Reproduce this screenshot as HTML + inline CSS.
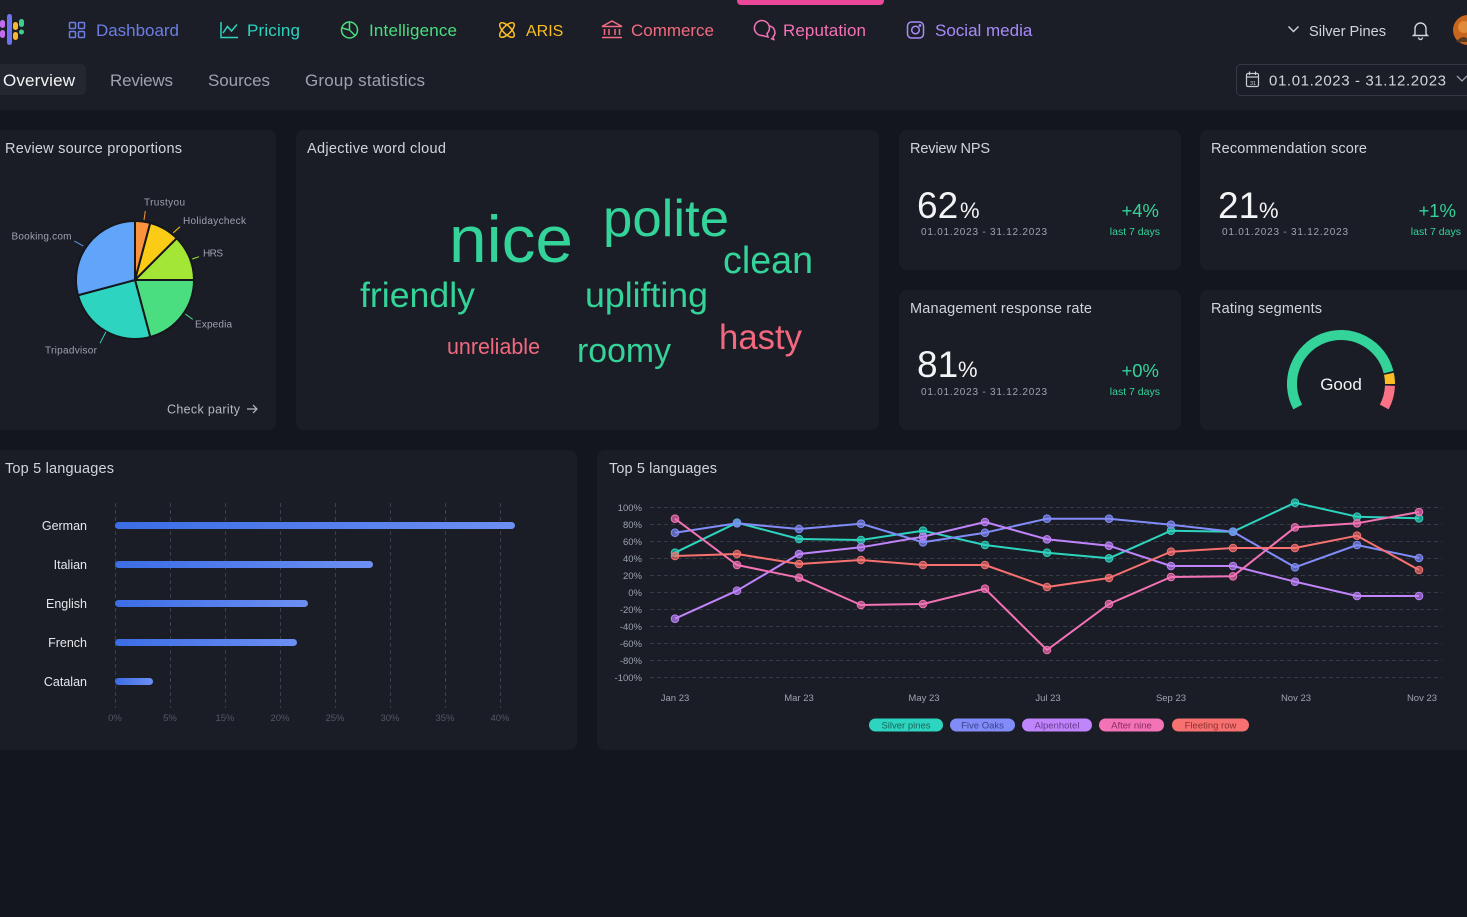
<!DOCTYPE html>
<html><head><meta charset="utf-8"><style>
html,body{margin:0;padding:0;background:#13161c;width:1467px;height:917px;overflow:hidden}
svg{display:block;font-family:"Liberation Sans",sans-serif}
</style></head><body>
<svg width="1467" height="917" viewBox="0 0 1467 917" xmlns="http://www.w3.org/2000/svg">
<defs>
<linearGradient id="bg" x1="0" x2="1" y1="0" y2="0"><stop offset="0" stop-color="#3b6de6"/><stop offset="1" stop-color="#6d8ff2"/></linearGradient>
</defs>
<rect width="1467" height="917" fill="#13161c"/>
<!-- header -->
<rect x="0" y="0" width="1467" height="110" fill="#1b1e26"/>
<!-- logo -->
<rect x="0" y="20" width="5" height="8" rx="2.5" fill="#c26cf0"/><rect x="0" y="30" width="5" height="8" rx="2.5" fill="#c26cf0"/>
<rect x="7" y="14" width="5" height="31" rx="2.5" fill="#6b74ee"/>
<rect x="13" y="22" width="5" height="8" rx="2.5" fill="#f5b82e"/><rect x="13" y="32" width="5" height="8" rx="2.5" fill="#f5b82e"/>
<rect x="19" y="19" width="5" height="8" rx="2.5" fill="#3ecf8e"/><circle cx="21.5" cy="32" r="2.5" fill="#3ecf8e"/>
<!-- active indicator -->
<rect x="737" y="-4" width="147" height="9" rx="4" fill="#ec4899"/>
<!-- nav icons -->
<g fill="none" stroke-width="1.5">
<g stroke="#6c7ee6"><rect x="69.5" y="22.5" width="6" height="6" rx="1"/><rect x="78.5" y="22.5" width="6" height="6" rx="1"/><rect x="69.5" y="31.5" width="6" height="6" rx="1"/><rect x="78.5" y="31.5" width="6" height="6" rx="1"/></g>
<g stroke="#2dd4bf"><polyline points="221,22 221,37.5 238,37.5"/><polyline points="223,33 227.5,26.5 231.5,31 237,24.5"/></g>
<g stroke="#4ade80"><circle cx="349.5" cy="30" r="8"/><path d="M349.5 22 V30 L355 35.5 M349.5 30 L342 28"/></g>
<g stroke="#fbbf24"><ellipse cx="507" cy="30" rx="9.5" ry="4" transform="rotate(45 507 30)"/><ellipse cx="507" cy="30" rx="9.5" ry="4" transform="rotate(-45 507 30)"/></g>
<g stroke="#f26b80"><path d="M602 26.5 L612 21 L622 26.5 Z M604.5 29 V35 M609 29 V35 M615 29 V35 M619.5 29 V35 M602 37.5 H622"/></g>
<g stroke="#f472b6"><path d="M762 35.5 a7.5 7.5 0 1 1 5 -2 l1 3.5 z"/><path d="M769.5 26 a6.5 6.5 0 0 1 3.5 11 l0.8 2.5 -3 -1"/></g>
<g stroke="#a78bfa"><rect x="907.5" y="22" width="16" height="16" rx="4"/><circle cx="915.5" cy="30" r="3.8"/><circle cx="920" cy="25.5" r="0.6" fill="#a78bfa"/></g>
</g>
<g font-size="17">
<text x="96" y="36" fill="#6c7ee6" textLength="83">Dashboard</text>
<text x="247" y="36" fill="#2dd4bf" textLength="53">Pricing</text>
<text x="369" y="36" fill="#4ade80" textLength="88">Intelligence</text>
<text x="526" y="36" fill="#fbbf24" font-size="16">ARIS</text>
<text x="631" y="36" fill="#f26b80" textLength="83">Commerce</text>
<text x="783" y="36" fill="#f472b6" textLength="83">Reputation</text>
<text x="935" y="36" fill="#a78bfa">Social media</text>
</g>
<!-- right header -->
<polyline points="1288.5,26.5 1293.5,31.5 1298.5,26.5" fill="none" stroke="#d1d5db" stroke-width="1.4"/>
<text x="1309" y="36" font-size="14.6" fill="#d1d5db">Silver Pines</text>
<path d="M1415 34 V28.5 a5.5 5.5 0 0 1 11 0 V34 l1.5 1.5 H1413.5 Z M1418.5 37.5 a2 2 0 0 0 4 0" fill="none" stroke="#d1d5db" stroke-width="1.4"/>
<circle cx="1468" cy="30" r="15" fill="#c8661e"/><circle cx="1464" cy="27" r="6" fill="#e08a3a"/><path d="M1456 42 q8 -10 14 0" fill="#5a3a22"/>
<!-- tabs -->
<rect x="-6" y="64" width="92" height="31" rx="5" fill="#24272f"/>
<g font-size="17" fill="#9ca3af">
<text x="3" y="86" fill="#f3f4f6" textLength="72">Overview</text>
<text x="110" y="86" textLength="63">Reviews</text>
<text x="208" y="86" textLength="62">Sources</text>
<text x="305" y="86" textLength="120">Group statistics</text>
</g>
<!-- date picker -->
<rect x="1236.5" y="64.5" width="250" height="31" rx="4" fill="none" stroke="#343842"/>
<g fill="none" stroke="#c9ccd2" stroke-width="1.2"><rect x="1246.5" y="73.5" width="12" height="13" rx="1.5"/><path d="M1246.5 77 H1258.5 M1249.5 71.5 V75 M1255.5 71.5 V75"/></g>
<text x="1250" y="85" font-size="5.5" fill="#c9ccd2">31</text>
<text x="1269" y="85.5" font-size="15" fill="#d1d5db" textLength="177">01.01.2023 - 31.12.2023</text>
<polyline points="1457,76 1462,81 1467,76" fill="none" stroke="#9ca3af" stroke-width="1.3"/>

<!-- cards -->
<g fill="#1a1d25">
<rect x="-10" y="130" width="286" height="300" rx="8"/>
<rect x="296" y="130" width="583" height="300" rx="8"/>
<rect x="899" y="130" width="282" height="140" rx="8"/>
<rect x="1200" y="130" width="290" height="140" rx="8"/>
<rect x="899" y="290" width="282" height="140" rx="8"/>
<rect x="1200" y="290" width="290" height="140" rx="8"/>
<rect x="-10" y="450" width="587" height="300" rx="8"/>
<rect x="597" y="450" width="890" height="300" rx="8"/>
</g>
<g font-size="14.5" fill="#d1d5db">
<text x="5" y="153" textLength="177">Review source proportions</text>
<text x="307" y="153" textLength="139">Adjective word cloud</text>
<text x="910" y="153" textLength="80">Review NPS</text>
<text x="1211" y="153" textLength="156">Recommendation score</text>
<text x="910" y="313" textLength="182">Management response rate</text>
<text x="1211" y="313" textLength="111">Rating segments</text>
<text x="5" y="473" textLength="109">Top 5 languages</text>
<text x="609" y="473" textLength="108">Top 5 languages</text>
</g>

<!-- pie -->
<g stroke="#15171d" stroke-width="2" stroke-linejoin="round">
<path d="M135 280 L135 221 A59 59 0 0 1 150.27 223.01 Z" fill="#fb923c"/>
<path d="M135 280 L150.27 223.01 A59 59 0 0 1 176.72 238.28 Z" fill="#facc15"/>
<path d="M135 280 L176.72 238.28 A59 59 0 0 1 194 280 Z" fill="#a3e635"/>
<path d="M135 280 L194 280 A59 59 0 0 1 150.27 336.99 Z" fill="#4ade80"/>
<path d="M135 280 L150.27 336.99 A59 59 0 0 1 78.01 295.27 Z" fill="#2dd4bf"/>
<path d="M135 280 L78.01 295.27 A59 59 0 0 1 135 221 Z" fill="#60a5fa"/>
</g>
<g stroke-width="1">
<line x1="144" y1="220" x2="145.3" y2="211" stroke="#fb923c"/>
<line x1="173.3" y1="232.7" x2="180" y2="226.7" stroke="#facc15"/>
<line x1="192.3" y1="259" x2="199" y2="256.7" stroke="#a3e635"/>
<line x1="74.3" y1="241" x2="83.3" y2="246" stroke="#60a5fa"/>
<line x1="185.3" y1="314" x2="192.7" y2="319.3" stroke="#4ade80"/>
<line x1="106" y1="331.7" x2="100" y2="343.3" stroke="#2dd4bf"/>
</g>
<g font-size="10" fill="#9ca3af">
<text x="144" y="205.5" textLength="41">Trustyou</text>
<text x="183" y="224" textLength="63">Holidaycheck</text>
<text x="203" y="256.5" textLength="20">HRS</text>
<text x="11.5" y="239.5" textLength="60">Booking.com</text>
<text x="195" y="327.5" textLength="37">Expedia</text>
<text x="45" y="353.5" textLength="52">Tripadvisor</text>
</g>
<text x="167" y="413.5" font-size="12.5" fill="#b4b9c2" textLength="73">Check parity</text>
<path d="M247 409 H257 M253 405 L257 409 L253 413" fill="none" stroke="#b4b9c2" stroke-width="1.2"/>

<!-- word cloud -->
<g fill="#34d399">
<text x="449" y="262" font-size="66" textLength="124" lengthAdjust="spacingAndGlyphs">nice</text>
<text x="603" y="236" font-size="52" textLength="126" lengthAdjust="spacingAndGlyphs">polite</text>
<text x="723" y="273" font-size="38" textLength="90" lengthAdjust="spacingAndGlyphs">clean</text>
<text x="360" y="307" font-size="35" textLength="115" lengthAdjust="spacingAndGlyphs">friendly</text>
<text x="585" y="307" font-size="35" textLength="123" lengthAdjust="spacingAndGlyphs">uplifting</text>
<text x="577" y="362" font-size="34" textLength="94" lengthAdjust="spacingAndGlyphs">roomy</text>
</g>
<g fill="#f2687f">
<text x="447" y="354" font-size="22" textLength="93" lengthAdjust="spacingAndGlyphs">unreliable</text>
<text x="719" y="349" font-size="35" textLength="83" lengthAdjust="spacingAndGlyphs">hasty</text>
</g>

<!-- KPI cards -->
<g fill="#f3f4f6">
<text x="917" y="218" font-size="37">62</text><text x="960" y="218" font-size="22">%</text>
<text x="1218" y="218" font-size="37">21</text><text x="1259" y="218" font-size="22">%</text>
<text x="917" y="377" font-size="37">81</text><text x="958" y="377" font-size="22">%</text>
</g>
<g font-size="10" fill="#9ca3af">
<text x="921" y="235" textLength="126">01.01.2023 - 31.12.2023</text>
<text x="1222" y="235" textLength="126">01.01.2023 - 31.12.2023</text>
<text x="921" y="395" textLength="126">01.01.2023 - 31.12.2023</text>
</g>
<g fill="#34d399" text-anchor="end">
<text x="1159" y="217" font-size="18.5">+4%</text>
<text x="1456" y="217" font-size="18.5">+1%</text>
<text x="1159" y="377" font-size="18.5">+0%</text>
<text x="1160" y="235" font-size="10.5">last 7 days</text>
<text x="1461" y="235" font-size="10.5">last 7 days</text>
<text x="1160" y="395" font-size="10.5">last 7 days</text>
</g>

<!-- gauge -->
<g fill="none" stroke-width="10">
<path d="M1297.74 407 A49 49 0 1 1 1388.54 372.15" stroke="#34d399"/>
<path d="M1388.93 373.81 A49 49 0 0 1 1390 384" stroke="#fbbf24"/>
<path d="M1389.97 385.71 A49 49 0 0 1 1384.26 407" stroke="#fb7185"/>
</g>
<text x="1341" y="390" font-size="17" fill="#f3f4f6" text-anchor="middle">Good</text>

<!-- bar chart -->
<g stroke="#3a3f49" stroke-width="1" stroke-dasharray="4 3">
<line x1="115.5" y1="503" x2="115.5" y2="708"/><line x1="170.5" y1="503" x2="170.5" y2="708"/><line x1="225.5" y1="503" x2="225.5" y2="708"/><line x1="280.5" y1="503" x2="280.5" y2="708"/><line x1="335.5" y1="503" x2="335.5" y2="708"/><line x1="390.5" y1="503" x2="390.5" y2="708"/><line x1="445.5" y1="503" x2="445.5" y2="708"/><line x1="500.5" y1="503" x2="500.5" y2="708"/>
</g>
<g fill="url(#bg)">
<rect x="115" y="522" width="400" height="7" rx="3.5"/>
<rect x="115" y="561" width="258" height="7" rx="3.5"/>
<rect x="115" y="600" width="193" height="7" rx="3.5"/>
<rect x="115" y="639" width="182" height="7" rx="3.5"/>
<rect x="115" y="678" width="38" height="7" rx="3.5"/>
</g>
<g font-size="12.5" fill="#e5e7eb" text-anchor="end">
<text x="87" y="530">German</text><text x="87" y="569">Italian</text><text x="87" y="608">English</text><text x="87" y="647">French</text><text x="87" y="686">Catalan</text>
</g>
<g font-size="9.5" fill="#525864" text-anchor="middle">
<text x="115" y="721">0%</text><text x="170" y="721">5%</text><text x="225" y="721">15%</text><text x="280" y="721">20%</text><text x="335" y="721">25%</text><text x="390" y="721">30%</text><text x="445" y="721">35%</text><text x="500" y="721">40%</text>
</g>

<!-- line chart grid -->
<g stroke="#363b46" stroke-width="1" stroke-dasharray="4 3">
<line x1="650" y1="507.5" x2="1442" y2="507.5"/><line x1="650" y1="524.5" x2="1442" y2="524.5"/><line x1="650" y1="541.5" x2="1442" y2="541.5"/><line x1="650" y1="558.5" x2="1442" y2="558.5"/><line x1="650" y1="575.5" x2="1442" y2="575.5"/><line x1="650" y1="592.5" x2="1442" y2="592.5"/><line x1="650" y1="609.5" x2="1442" y2="609.5"/><line x1="650" y1="626.5" x2="1442" y2="626.5"/><line x1="650" y1="643.5" x2="1442" y2="643.5"/><line x1="650" y1="660.5" x2="1442" y2="660.5"/><line x1="650" y1="677.5" x2="1442" y2="677.5"/>
</g>
<g font-size="9.5" fill="#9ca3af" text-anchor="end">
<text x="642" y="511">100%</text><text x="642" y="528">80%</text><text x="642" y="545">60%</text><text x="642" y="562">40%</text><text x="642" y="579">20%</text><text x="642" y="596">0%</text><text x="642" y="613">-20%</text><text x="642" y="630">-40%</text><text x="642" y="647">-60%</text><text x="642" y="664">-80%</text><text x="642" y="681">-100%</text>
</g>
<g font-size="9.5" fill="#9ca3af" text-anchor="middle">
<text x="675" y="701">Jan 23</text><text x="799" y="701">Mar 23</text><text x="924" y="701">May 23</text><text x="1048" y="701">Jul 23</text><text x="1171" y="701">Sep 23</text><text x="1296" y="701">Nov 23</text><text x="1422" y="701">Nov 23</text>
</g>
<!-- series -->
<g fill="none" stroke-width="2" stroke-linejoin="round">
<polyline stroke="#2dd4bf" points="675,552.7 737,522.7 799,539 861,540 923,530.7 985,545 1047,552.7 1109,558.3 1171,530.7 1233,531.7 1295,502.7 1357,516.7 1419,518.3"/>
<polyline stroke="#818cf8" points="675,532.7 737,523.3 799,529 861,523.7 923,542.3 985,532.7 1047,518.7 1109,518.7 1171,524.7 1233,531.7 1295,567.3 1357,545 1419,558"/>
<polyline stroke="#c084fc" points="675,618.7 737,590.7 799,554 861,547.3 923,536.7 985,522 1047,539.3 1109,545.7 1171,566 1233,566 1295,581.7 1357,596 1419,596"/>
<polyline stroke="#f472b6" points="675,518.7 737,565 799,577.7 861,605 923,604 985,588.7 1047,650 1109,604 1171,577 1233,576.3 1295,527.3 1357,523.3 1419,512"/>
<polyline stroke="#f87171" points="675,556 737,554 799,564 861,560 923,565 985,565 1047,587 1109,578 1171,551.7 1233,548 1295,548 1357,535.7 1419,570"/>
</g>
<g fill-opacity="0.65" stroke-width="1">
<g fill="#2dd4bf" stroke="#2dd4bf"><circle cx="675" cy="552.7" r="3.8"/><circle cx="737" cy="522.7" r="3.8"/><circle cx="799" cy="539" r="3.8"/><circle cx="861" cy="540" r="3.8"/><circle cx="923" cy="530.7" r="3.8"/><circle cx="985" cy="545" r="3.8"/><circle cx="1047" cy="552.7" r="3.8"/><circle cx="1109" cy="558.3" r="3.8"/><circle cx="1171" cy="530.7" r="3.8"/><circle cx="1233" cy="531.7" r="3.8"/><circle cx="1295" cy="502.7" r="3.8"/><circle cx="1357" cy="516.7" r="3.8"/><circle cx="1419" cy="518.3" r="3.8"/></g>
<g fill="#818cf8" stroke="#818cf8"><circle cx="675" cy="532.7" r="3.8"/><circle cx="737" cy="523.3" r="3.8"/><circle cx="799" cy="529" r="3.8"/><circle cx="861" cy="523.7" r="3.8"/><circle cx="923" cy="542.3" r="3.8"/><circle cx="985" cy="532.7" r="3.8"/><circle cx="1047" cy="518.7" r="3.8"/><circle cx="1109" cy="518.7" r="3.8"/><circle cx="1171" cy="524.7" r="3.8"/><circle cx="1233" cy="531.7" r="3.8"/><circle cx="1295" cy="567.3" r="3.8"/><circle cx="1357" cy="545" r="3.8"/><circle cx="1419" cy="558" r="3.8"/></g>
<g fill="#c084fc" stroke="#c084fc"><circle cx="675" cy="618.7" r="3.8"/><circle cx="737" cy="590.7" r="3.8"/><circle cx="799" cy="554" r="3.8"/><circle cx="861" cy="547.3" r="3.8"/><circle cx="923" cy="536.7" r="3.8"/><circle cx="985" cy="522" r="3.8"/><circle cx="1047" cy="539.3" r="3.8"/><circle cx="1109" cy="545.7" r="3.8"/><circle cx="1171" cy="566" r="3.8"/><circle cx="1233" cy="566" r="3.8"/><circle cx="1295" cy="581.7" r="3.8"/><circle cx="1357" cy="596" r="3.8"/><circle cx="1419" cy="596" r="3.8"/></g>
<g fill="#f472b6" stroke="#f472b6"><circle cx="675" cy="518.7" r="3.8"/><circle cx="737" cy="565" r="3.8"/><circle cx="799" cy="577.7" r="3.8"/><circle cx="861" cy="605" r="3.8"/><circle cx="923" cy="604" r="3.8"/><circle cx="985" cy="588.7" r="3.8"/><circle cx="1047" cy="650" r="3.8"/><circle cx="1109" cy="604" r="3.8"/><circle cx="1171" cy="577" r="3.8"/><circle cx="1233" cy="576.3" r="3.8"/><circle cx="1295" cy="527.3" r="3.8"/><circle cx="1357" cy="523.3" r="3.8"/><circle cx="1419" cy="512" r="3.8"/></g>
<g fill="#f87171" stroke="#f87171"><circle cx="675" cy="556" r="3.8"/><circle cx="737" cy="554" r="3.8"/><circle cx="799" cy="564" r="3.8"/><circle cx="861" cy="560" r="3.8"/><circle cx="923" cy="565" r="3.8"/><circle cx="985" cy="565" r="3.8"/><circle cx="1047" cy="587" r="3.8"/><circle cx="1109" cy="578" r="3.8"/><circle cx="1171" cy="551.7" r="3.8"/><circle cx="1233" cy="548" r="3.8"/><circle cx="1295" cy="548" r="3.8"/><circle cx="1357" cy="535.7" r="3.8"/><circle cx="1419" cy="570" r="3.8"/></g>
</g>
<!-- legend -->
<rect x="869" y="718.5" width="74" height="13" rx="6.5" fill="#2dd4bf"/>
<rect x="950" y="718.5" width="65" height="13" rx="6.5" fill="#818cf8"/>
<rect x="1022" y="718.5" width="70" height="13" rx="6.5" fill="#c084fc"/>
<rect x="1099" y="718.5" width="65" height="13" rx="6.5" fill="#f472b6"/>
<rect x="1172" y="718.5" width="77" height="13" rx="6.5" fill="#f87171"/>
<g font-size="9.5" text-anchor="middle">
<text x="906" y="728.5" fill="#17665a">Silver pines</text>
<text x="982.5" y="728.5" fill="#3c4390">Five Oaks</text>
<text x="1057" y="728.5" fill="#673c8f">Alpenhotel</text>
<text x="1131.5" y="728.5" fill="#8a2c63">After nine</text>
<text x="1210.5" y="728.5" fill="#8c2f2f">Fleeting row</text>
</g>
</svg>
</body></html>
